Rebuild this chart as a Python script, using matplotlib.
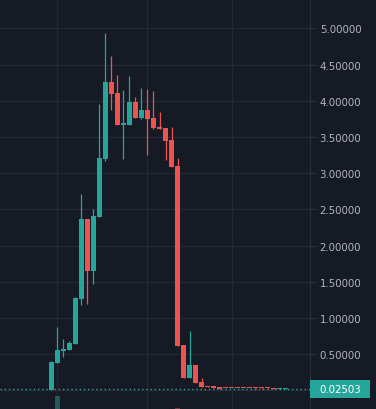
import matplotlib
matplotlib.use("Agg")
import matplotlib.pyplot as plt
import matplotlib.transforms as mtransforms
from matplotlib.patches import Rectangle
import numpy as np

# ---- data ----
opens  = [0.005, 0.377, 0.545, 0.557, 0.640, 1.260, 2.366, 1.650, 2.390, 3.195,
          4.258, 4.100, 3.665, 3.665, 3.980, 3.760, 3.870, 3.760, 3.635, 3.620,
          3.457, 3.100, 0.627, 0.170, 0.350, 0.115, 0.060, 0.060, 0.045, 0.031,
          0.030, 0.030, 0.029, 0.029, 0.028, 0.028, 0.028, 0.027, 0.024, 0.0245]
highs  = [0.410, 0.874, 0.710, 0.680, 1.290, 2.710, 2.370, 2.500, 3.955, 4.935,
          4.620, 4.355, 4.150, 4.340, 4.050, 4.175, 4.160, 4.130, 3.840, 3.620,
          3.635, 3.210, 0.627, 0.820, 0.350, 0.170, 0.060, 0.060, 0.045, 0.031,
          0.030, 0.030, 0.029, 0.029, 0.028, 0.028, 0.028, 0.027, 0.026, 0.0255]
lows   = [0.000, 0.377, 0.460, 0.557, 0.640, 1.180, 1.190, 1.470, 2.390, 3.170,
          3.870, 3.665, 3.195, 3.665, 3.760, 3.750, 3.250, 3.605, 3.610, 3.180,
          3.085, 0.612, 0.170, 0.170, 0.100, 0.046, 0.046, 0.030, 0.020, 0.028,
          0.027, 0.027, 0.026, 0.026, 0.025, 0.025, 0.025, 0.024, 0.024, 0.0240]
closes = [0.390, 0.557, 0.565, 0.653, 1.275, 2.366, 1.650, 2.410, 3.210, 4.258,
          4.090, 3.665, 3.690, 3.980, 3.760, 3.870, 3.750, 3.620, 3.610, 3.440,
          3.085, 0.612, 0.170, 0.350, 0.100, 0.046, 0.046, 0.030, 0.020, 0.029,
          0.028, 0.028, 0.027, 0.027, 0.026, 0.026, 0.026, 0.025, 0.026, 0.02503]
volumes = [30, 53, 28, 20, 34, 38, 30, 32, 36, 38,
           30, 26, 24, 22, 18, 16, 18, 16, 14, 18,
           30, 41, 34, 30, 22, 14, 10, 8, 8, 6,
           5, 5, 5, 4, 4, 4, 4, 4, 3, 3]
y_ticks = [0.5, 1.0, 1.5, 2.0, 2.5, 3.0, 3.5, 4.0, 4.5, 5.0]
y_tick_labels = ["0.50000", "1.00000", "1.50000", "2.00000", "2.50000",
                 "3.00000", "3.50000", "4.00000", "4.50000", "5.00000"]
time_grid = [1, 16, 30]
last_price = 0.02503
last_label = "0.02503"

# ---- style ----
BG = "#161a25"
GRID = "#232733"
AXIS = "#2a2e39"
TEXT = "#b2b5be"
UP = "#26a69a"
DOWN = "#ef5350"

W, H = 376, 410
fig = plt.figure(figsize=(W / 100, H / 100), dpi=100, facecolor=BG)
ax_w = 310 / W
ax = fig.add_axes([0, 0, ax_w, 1], facecolor=BG)

x = np.arange(len(opens))
o = np.array(opens); c = np.array(closes); hi = np.array(highs); lo = np.array(lows)
up = c >= o
colors = [UP if u else DOWN for u in up]

# volume pane (overlay, mostly below the visible area)
axv = ax.twinx()
axv.set_ylim(40, 450)
for g in time_grid:
    axv.axvline(g, color=GRID, lw=1.0, zorder=0)
axv.bar(x, volumes, width=0.82, color=colors, alpha=0.45, linewidth=0, zorder=1)
axv.axis("off")

ax.set_zorder(axv.get_zorder() + 1)
ax.patch.set_visible(False)

# horizontal grid
for t in [0.0] + y_ticks:
    ax.axhline(t, color=GRID, lw=1.0, zorder=0)

# wicks
ax.vlines(x, lo, hi, colors=colors, lw=0.9, zorder=2)
# bodies (minimum 1px tall)
min_h = 1.0 / 72.4
body_bottom = np.minimum(o, c)
body_h = np.maximum(np.abs(c - o), min_h)
ax.bar(x, body_h, bottom=body_bottom, width=0.82, color=colors, linewidth=0, zorder=3)

# last price dotted line
ax.axhline(last_price, color=UP, lw=1.0, linestyle=(0, (1, 2)), zorder=1)

ax.set_xlim(-8.583, 43.083)
ax.set_ylim(-0.258, 5.405)
axv.set_xlim(-8.583, 43.083)

# axis styling
for s in ["top", "left", "bottom"]:
    ax.spines[s].set_visible(False)
ax.spines["right"].set_color(AXIS)
ax.spines["right"].set_linewidth(1.0)
ax.xaxis.set_visible(False)
ax.yaxis.tick_right()
ax.set_yticks(y_ticks)
ax.set_yticklabels(y_tick_labels)
ax.tick_params(axis="y", colors=AXIS, labelcolor=TEXT, length=4, width=1.0,
               pad=3, labelsize=7.4)

# last-price label box
trans = mtransforms.blended_transform_factory(ax.transAxes, ax.transData)
box_h = 18 / 72.4
ax.add_patch(Rectangle((1.0, last_price - box_h / 2), 60 / 310, box_h,
                       transform=trans, facecolor=UP, edgecolor="none",
                       clip_on=False, zorder=5))
ax.text(1.0 + 9 / 310, last_price, last_label, transform=trans, color="white",
        fontsize=7.4, va="center", ha="left", zorder=6, clip_on=False)

fig.savefig("out.png", dpi=100, facecolor=BG)
